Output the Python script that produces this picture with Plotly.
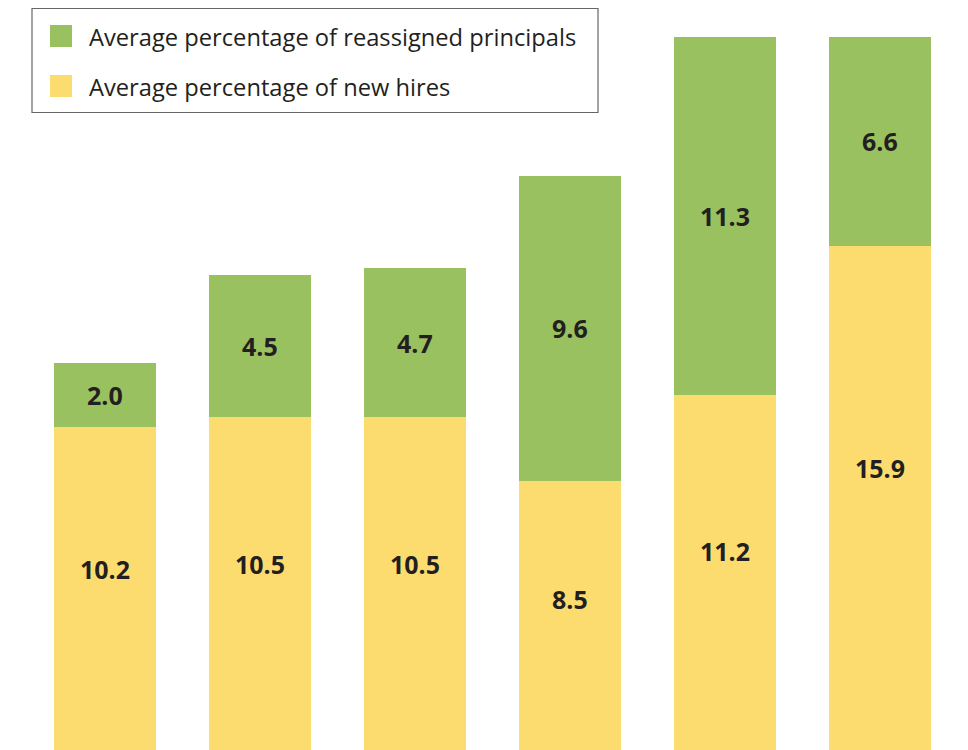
import plotly.graph_objects as go

categories = ["1", "2", "3", "4", "5", "6"]
new_hires = [10.2, 10.5, 10.5, 8.5, 11.2, 15.9]
reassigned = [2.0, 4.5, 4.7, 9.6, 11.3, 6.6]
series_names = ["Average percentage of new hires", "Average percentage of reassigned principals"]

YELLOW = "#fddc6f"
GREEN = "#9ac15f"
TEXT = "#231f20"
W, H = 968, 750

x = list(range(len(categories)))

fig = go.Figure()
fig.add_trace(go.Bar(x=x, y=new_hires, name=series_names[0], marker=dict(color=YELLOW, line=dict(width=0)),
                     hoverinfo="skip", showlegend=False))
fig.add_trace(go.Bar(x=x, y=reassigned, name=series_names[1], marker=dict(color=GREEN, line=dict(width=0)),
                     hoverinfo="skip", showlegend=False))

annotations = []
for i, (a, b) in enumerate(zip(new_hires, reassigned)):
    annotations.append(dict(x=i, y=a * 0.56, text=f"{a:.1f}", showarrow=False,
                            font=dict(family="Open Sans", size=25, color=TEXT, weight="bold"),
                            xref="x", yref="y"))
    annotations.append(dict(x=i, y=a + b * 0.5, text=f"{b:.1f}", showarrow=False,
                            font=dict(family="Open Sans", size=25, color=TEXT, weight="bold"),
                            xref="x", yref="y"))


def px(v):
    return v / W


def py(v):
    return 1 - v / H


# Legend drawn as a box with colour keys (pixel positions in figure space)
shapes = [
    dict(type="rect", xref="paper", yref="paper", x0=px(24), x1=px(590), y0=py(0.5), y1=py(104.5),
         line=dict(color="#666666", width=1.2), fillcolor="white", layer="above"),
]
legend_items = [(series_names[1], GREEN), (series_names[0], YELLOW)]
for k, (name, col) in enumerate(legend_items):
    top = 17 + 50 * k
    shapes.append(dict(type="rect", xref="paper", yref="paper", x0=px(42), x1=px(64),
                       y0=py(top), y1=py(top + 22), line=dict(width=0), fillcolor=col, layer="above"))
    annotations.append(dict(x=px(79), y=py(top + 12), xref="paper", yref="paper", text=name,
                            showarrow=False, xanchor="left", yanchor="middle",
                            font=dict(family="Open Sans", size=23.7, color=TEXT)))

fig.update_layout(
    barmode="stack",
    bargap=0.34,
    width=W, height=H,
    margin=dict(l=0, r=0, t=0, b=0),
    paper_bgcolor="white", plot_bgcolor="white",
    xaxis=dict(range=[-0.626, 5.619], visible=False, fixedrange=True),
    yaxis=dict(range=[-0.252, 23.41], visible=False, fixedrange=True),
    showlegend=False,
    shapes=shapes,
    annotations=annotations,
)

fig.write_html("out.html")
